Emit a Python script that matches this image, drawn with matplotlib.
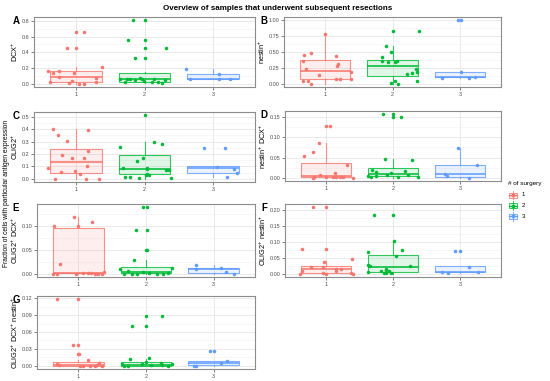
import numpy as np
import matplotlib
matplotlib.use('Agg')
import matplotlib.pyplot as plt
from matplotlib.ticker import MultipleLocator, AutoMinorLocator, FormatStrFormatter
from matplotlib.patches import Rectangle
from matplotlib.lines import Line2D

plt.rcParams['font.family'] = ['Liberation Sans', 'DejaVu Sans']
plt.rcParams['mathtext.fontset'] = 'custom'
plt.rcParams['mathtext.rm'] = 'Liberation Sans'
plt.rcParams['mathtext.it'] = 'Liberation Sans:italic'
plt.rcParams['mathtext.bf'] = 'Liberation Sans:bold'

W, H = 550, 381

groups = [1, 2, 3]
colors = ['#F8766D', '#00BA38', '#619CFF']

# ---- panel A: DCX+
a_vals = [[0.159, 0.142, 0.159, 0.092, 0.025, 0.452, 0.452, 0.662, 0.662, 0.008, 0.034, 0.138, 0.004, 0.004, 0.075, 0.025, 0.218],
          [0.808, 0.808, 0.553, 0.553, 0.457, 0.457, 0.331, 0.331, 0.059, 0.017, 0.059, 0.059, 0.046, 0.075, 0.063, 0.034, 0.017, 0.059, 0.021, 0.008, 0.046],
          [0.188, 0.059, 0.126, 0.059, 0.059]]
a_jit = [[-0.40, -0.33, -0.25, -0.25, -0.38, -0.13, 0.0, 0.0, 0.12, -0.10, -0.05, -0.02, 0.04, 0.12, 0.30, 0.30, 0.38],
         [-0.17, 0.0, -0.24, 0.0, 0.0, 0.32, -0.14, 0.0, -0.35, -0.29, -0.26, -0.21, -0.14, -0.06, -0.03, -0.01, 0.11, 0.14, 0.19, 0.26, 0.30],
         [-0.39, -0.33, 0.08, 0.08, 0.25]]
a_box = [(0.004, 0.021, 0.084, 0.159, 0.218), (0.008, 0.017, 0.059, 0.142, 0.15), (0.055, 0.055, 0.059, 0.126, 0.188)]

# ---- panel B: nestin+
b_vals = [[0.788, 0.451, 0.492, 0.363, 0.228, 0.145, 0.435, 0.316, 0.28, 0.083, 0.073, 0.181, 0.083, 0.041, 0.041, 0.0],
          [0.834, 0.834, 0.601, 0.503, 0.425, 0.363, 0.337, 0.337, 0.352, 0.155, 0.171, 0.233, 0.181, 0.052, 0.01, 0.052, 0.0],
          [1.0, 1.0, 0.192, 0.088, 0.098, 0.114]]
b_jit = [[0.0, -0.31, -0.21, -0.33, -0.29, -0.09, 0.16, 0.19, 0.18, 0.22, 0.16, 0.38, 0.38, -0.33, -0.26, -0.21],
         [0.0, 0.39, -0.09, -0.02, -0.15, -0.16, -0.06, 0.04, 0.07, 0.21, 0.29, 0.35, 0.36, 0.36, -0.02, 0.03, 0.08],
         [-0.03, 0.01, 0.01, -0.27, 0.13, 0.23]]
b_box = [(0.0, 0.083, 0.207, 0.378, 0.788), (0.0, 0.13, 0.28, 0.373, 0.59), (0.088, 0.104, 0.109, 0.192, 0.192)]

# ---- panel C: OLIG2+
c_vals = [[0.091, 0.0, 0.403, 0.352, 0.191, 0.301, 0.164, 0.067, 0.038, 0.167, 0.0, 0.392, 0.223, 0.1, 0.0, 0.056],
          [0.513, 0.255, 0.089, 0.016, 0.011, 0.145, 0.169, 0.078, 0.086, 0.038, 0.032, 0.032, 0.005, 0.293, 0.28, 0.07, 0.07, 0.003],
          [0.25, 0.25, 0.097, 0.081, 0.048, 0.016]]
c_jit = [[-0.40, -0.31, -0.34, -0.26, -0.20, -0.13, -0.05, -0.01, 0.06, 0.12, 0.15, 0.17, 0.17, 0.16, 0.34, -0.21],
         [0.0, -0.35, -0.32, -0.28, -0.21, -0.11, -0.02, 0.04, 0.04, 0.04, 0.02, 0.07, -0.08, 0.14, 0.26, 0.31, 0.35, 0.39],
         [-0.14, 0.17, 0.05, 0.31, 0.35, 0.20]]
c_box = [(0.0, 0.05, 0.132, 0.242, 0.403), (0.0, 0.035, 0.08, 0.19, 0.293), (0.016, 0.048, 0.086, 0.1, 0.1)]

# ---- panel D: nestin+ DCX+
d_vals = [[0.053, 0.063, 0.086, 0.129, 0.129, 0.002, 0.0, 0.007, 0.011, 0.002, 0.002, 0.003, 0.031, 0.0, 0.002, 0.001],
          [0.157, 0.157, 0.15, 0.15, 0.047, 0.045, 0.004, 0.002, 0.019, 0.014, 0.004, 0.007, 0.013, 0.002, 0.017, 0.008, 0.003],
          [0.073, 0.031, 0.01, 0.004, 0.0]]
d_jit = [[-0.32, -0.20, -0.10, 0.0, 0.06, -0.18, -0.19, -0.09, 0.13, 0.15, 0.21, 0.25, 0.31, 0.41, 0.0, 0.10],
         [-0.15, 0.0, 0.0, 0.12, -0.12, 0.29, -0.37, -0.33, -0.32, -0.25, -0.25, -0.09, -0.03, 0.07, 0.18, 0.23, 0.38],
         [-0.03, 0.25, -0.22, -0.20, 0.14]]
d_box = [(0.0, 0.001, 0.005, 0.036, 0.086), (0.0, 0.004, 0.01, 0.025, 0.047), (0.0, 0.003, 0.01, 0.031, 0.073)]

# ---- panel E: OLIG2+ DCX+
e_vals = [[0.12, 0.109, 0.1, 0.1, 0.02, 0.0, 0.0, 0.0, 0.001, 0.002, 0.002, 0.0, 0.0, 0.0, 0.004],
          [0.14, 0.14, 0.093, 0.093, 0.051, 0.051, 0.029, 0.009, 0.0, 0.005, 0.0, 0.0, 0.004, 0.002, 0.0, 0.0, 0.001, 0.012],
          [0.018, 0.009, 0.012, 0.003, 0.0]]
e_jit = [[-0.06, 0.2, -0.36, 0.0, -0.27, -0.38, -0.32, -0.04, 0.07, 0.14, 0.19, 0.25, 0.29, 0.35, 0.38],
         [-0.05, 0.01, -0.15, 0.01, 0.0, 0.02, -0.17, -0.39, -0.32, -0.27, -0.20, -0.14, -0.04, 0.04, 0.16, 0.25, 0.32, 0.39],
         [-0.26, -0.26, 0.11, 0.18, 0.30]]
e_box = [(0.0, 0.001, 0.002, 0.097, 0.12), (0.0, 0.001, 0.004, 0.015, 0.028), (0.0, 0.002, 0.009, 0.013, 0.018)]

# ---- panel F: OLIG2+ nestin+
f_vals = [[0.21, 0.21, 0.079, 0.079, 0.037, 0.046, 0.021, 0.021, 0.01, 0.016, 0.01, 0.015, 0.002, 0.0, 0.0, 0.001, 0.0],
          [0.185, 0.185, 0.07, 0.103, 0.075, 0.056, 0.028, 0.025, 0.024, 0.004, 0.008, 0.001, 0.001, 0.015, 0.008, 0.001, 0.012],
          [0.073, 0.073, 0.022, 0.004, 0.001, 0.004]]
f_jit = [[-0.2, 0.0, -0.35, 0.0, -0.03, 0.39, -0.22, -0.05, -0.35, 0.15, 0.15, 0.22, -0.05, 0.0, -0.39, 0.38, 0.4],
         [-0.29, 0.0, -0.37, 0.01, 0.14, 0.05, -0.37, -0.35, 0.26, -0.37, -0.18, -0.13, -0.10, -0.10, -0.06, -0.03, -0.11],
         [-0.08, 0.0, 0.14, -0.27, -0.18, 0.26]]
f_box = [(0.0, 0.003, 0.014, 0.024, 0.04), (0.0, 0.004, 0.02, 0.059, 0.103), (0.001, 0.004, 0.005, 0.023, 0.023)]

# ---- panel G: OLIG2+ DCX+ nestin+
g_vals = [[0.118, 0.118, 0.0375, 0.0375, 0.0215, 0.0215, 0.01, 0.003, 0.002, 0.0, 0.0, 0.0, 0.0, 0.002, 0.004, 0.0],
          [0.07, 0.07, 0.089, 0.089, 0.012, 0.013, 0.0, 0.0, 0.003, 0.007, 0.002, 0.004, 0.001, 0.0, 0.003, 0.003],
          [0.026, 0.026, 0.009, 0.0, 0.0, 0.004]]
g_jit = [[-0.31, 0.0, -0.08, 0.0, -0.01, 0.005, 0.14, -0.31, -0.29, 0.02, 0.07, 0.18, 0.24, 0.27, 0.30, 0.35],
         [-0.21, 0.0, 0.0, 0.23, -0.24, 0.05, -0.33, -0.27, -0.06, 0.0, 0.08, 0.22, 0.23, 0.32, 0.38, -0.35],
         [-0.06, 0.0, 0.2, -0.29, -0.26, 0.11]]
g_box = [(0.0, 0.0, 0.002, 0.007, 0.01), (0.0, 0.0, 0.002, 0.007, 0.012), (0.0, 0.002, 0.005, 0.009, 0.009)]

panel_labels = ['A', 'B', 'C', 'D', 'E', 'F', 'G']
ylabels = [r'DCX$^{+}$', r'nestin$^{+}$', r'OLIG2$^{+}$', r'nestin$^{+}$ DCX$^{+}$',
           r'OLIG2$^{+}$ DCX$^{+}$', r'OLIG2$^{+}$ nestin$^{+}$', r'OLIG2$^{+}$ DCX$^{+}$ nestin$^{+}$']

panels = [
    (a_vals, a_jit, a_box, 0.2, '%.1f', (34, 17, 255, 87)),
    (b_vals, b_jit, b_box, 0.25, '%.2f', (284, 17, 501, 87)),
    (c_vals, c_jit, c_box, 0.1, '%.1f', (34, 112, 255, 182)),
    (d_vals, d_jit, d_box, 0.05, '%.2f', (285, 111, 501, 181)),
    (e_vals, e_jit, e_box, 0.05, '%.2f', (37, 204, 255, 277)),
    (f_vals, f_jit, f_box, 0.05, '%.2f', (285, 204, 501, 277)),
    (g_vals, g_jit, g_box, 0.03, '%.2f', (37, 296, 255, 369)),
]

fig = plt.figure(figsize=(W / 100, H / 100), dpi=100)
fig.patch.set_facecolor('white')


def px_axes(l, t, r, b):
    return fig.add_axes([l / W, 1 - b / H, (r - l) / W, (b - t) / H])


for (vals, jit, box, step, fmt, pos), lab, ylab in zip(panels, panel_labels, ylabels):
    ax = px_axes(*pos)
    ax.set_facecolor('white')
    ax.set_axisbelow(True)
    ax.grid(which='major', color='#E6E6E6', linewidth=0.6)
    ax.grid(which='minor', color='#F2F2F2', linewidth=0.4)

    stats = []
    for (lo, q1, med, q3, hi) in box:
        stats.append({'whislo': lo, 'q1': q1, 'med': med, 'q3': q3, 'whishi': hi})
    art = ax.bxp(stats, positions=groups, widths=0.75, showfliers=False,
                 showcaps=False, patch_artist=True)
    for i, col in enumerate(colors):
        art['boxes'][i].set_facecolor(matplotlib.colors.to_rgba(col, 0.12))
        art['boxes'][i].set_edgecolor(matplotlib.colors.to_rgba(col, 0.8))
        art['boxes'][i].set_linewidth(0.8)
        art['medians'][i].set_color(matplotlib.colors.to_rgba(col, 0.95))
        art['medians'][i].set_linewidth(1.2)
        for w in art['whiskers'][2 * i:2 * i + 2]:
            w.set_color(matplotlib.colors.to_rgba(col, 0.8))
            w.set_linewidth(0.8)

    for g, v, j, col in zip(groups, vals, jit, colors):
        ax.scatter(np.array(j) + g, v, s=6.5, color=col, linewidths=0, zorder=3)

    ymax = max(max(v) for v in vals)
    ax.set_ylim(-0.05 * ymax, 1.05 * ymax)
    ax.set_xlim(0.39, 3.61)
    ax.set_xticks(groups)
    ax.set_xticklabels([str(g) for g in groups])
    ax.yaxis.set_major_locator(MultipleLocator(step))
    ax.yaxis.set_minor_locator(AutoMinorLocator(2))
    ax.yaxis.set_major_formatter(FormatStrFormatter(fmt))
    ax.tick_params(which='major', length=2, width=0.5, color='#4D4D4D',
                   labelsize=3.9, labelcolor='#4D4D4D', pad=1.5)
    ax.tick_params(which='minor', length=0)
    for sp in ax.spines.values():
        sp.set_color('#8C8C8C')
        sp.set_linewidth(0.8)
    ax.set_ylabel(ylab, fontsize=5.3, labelpad=1)

    l, t, r, b = pos
    lx = 16 if l < 100 else 264
    fig.text(lx / W, 1 - (t + 4) / H, lab, fontsize=7, fontweight='bold',
             ha='center', va='center')

fig.text(278 / W, 1 - 9 / H, 'Overview of samples that underwent subsequent resections',
         fontsize=5.8, fontweight='bold', ha='center', va='center')
fig.text(6.5 / W, 1 - 193 / H, 'Fraction of cells with particular antigen expression',
         fontsize=4.8, rotation=90, ha='center', va='center')

# legend
fig.text(508 / W, 1 - 184 / H, '# of surgery', fontsize=4.6, ha='left', va='center')
for i, (g, col) in enumerate(zip(groups, colors)):
    cy = 195 + i * 10.5
    cx = 512.5
    fig.add_artist(Line2D([cx / W, cx / W], [1 - (cy - 4.5) / H, 1 - (cy + 4.5) / H],
                          color=matplotlib.colors.to_rgba(col, 0.8), linewidth=0.7))
    fig.add_artist(Rectangle((508.5 / W, 1 - (cy + 2.5) / H), 8 / W, 5 / H,
                             facecolor=matplotlib.colors.to_rgba(col, 0.12),
                             edgecolor=matplotlib.colors.to_rgba(col, 0.8), linewidth=0.7))
    fig.add_artist(Line2D([508.5 / W, 516.5 / W], [1 - cy / H, 1 - cy / H],
                          color=col, linewidth=0.9))
    fig.add_artist(Line2D([cx / W], [1 - cy / H], marker='o', markersize=1.8,
                          color=col, linestyle='none'))
    fig.text(522 / W, 1 - cy / H, str(g), fontsize=4.4, ha='left', va='center')

fig.savefig('out.png', dpi=100)
